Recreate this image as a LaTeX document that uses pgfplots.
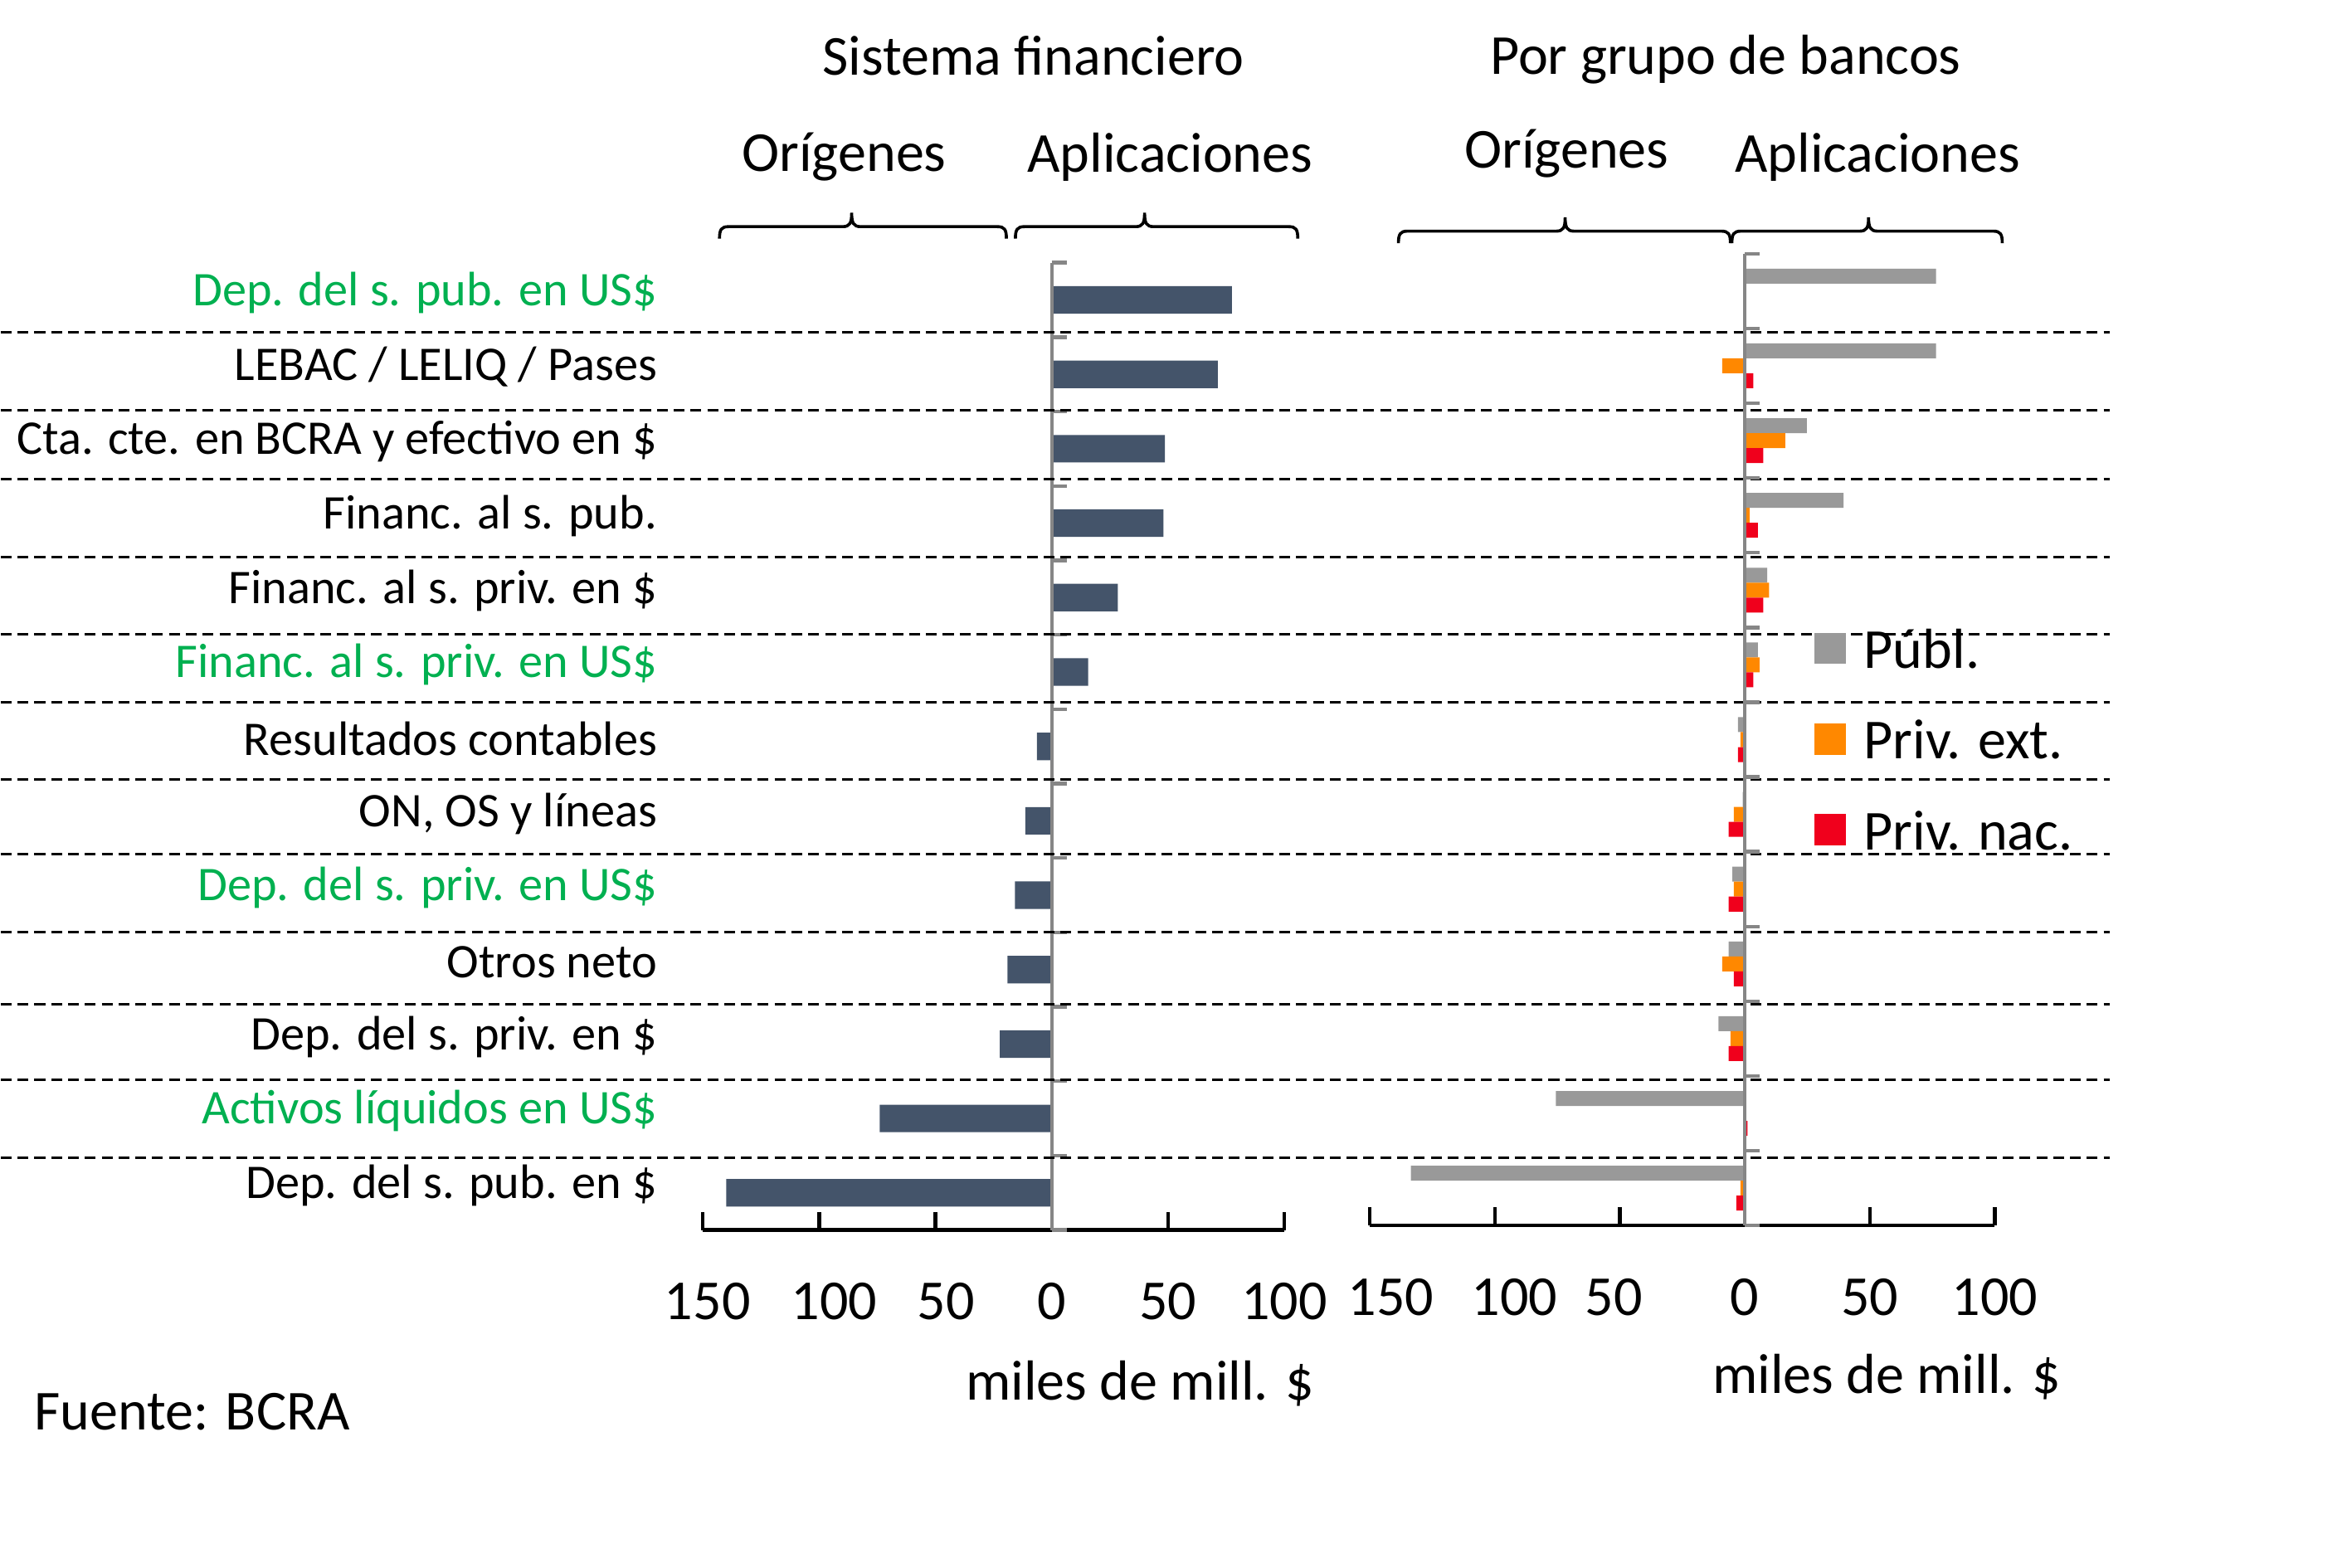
\documentclass[border=0pt]{standalone}
\usepackage{fontspec}
\setmainfont{Carlito}
\usepackage{pgfplots}
\pgfplotsset{compat=1.18}

\definecolor{slate}{HTML}{44546A}
\definecolor{publ}{HTML}{999999}
\definecolor{pext}{HTML}{FF8800}
\definecolor{pnac}{HTML}{F0001C}
\definecolor{usgreen}{HTML}{00B050}
\definecolor{axgray}{HTML}{868686}

\newcommand{\fbig}{\fontsize{9.4}{11}\selectfont}
\newcommand{\fcat}{\fontsize{8.05}{10}\selectfont}

\tikzset{zeroline/.style={axgray,line width=0.6pt}}

% flat brace: left x, tip x, right x, base y
\newcommand{\obrace}[4]{%
  \draw[line width=0.5pt]
    (#1,#4) .. controls (#1,#4+1.5pt) and (#1+0.3pt,#4+2pt) .. (#1+1.5pt,#4+2pt)
    -- (#2-1.5pt,#4+2pt) .. controls (#2-0.3pt,#4+2pt) and (#2,#4+2.6pt) .. (#2,#4+4.3pt)
    .. controls (#2,#4+2.6pt) and (#2+0.3pt,#4+2pt) .. (#2+1.5pt,#4+2pt)
    -- (#3-1.5pt,#4+2pt) .. controls (#3-0.3pt,#4+2pt) and (#3,#4+1.5pt) .. (#3,#4);}

\pgfplotsset{
  panel/.style={
    scale only axis,
    xmin=-150,xmax=100,ymin=0.5,ymax=13.5,
    y dir=reverse,
    axis x line*=bottom,axis y line*=left,
    x axis line style={-,black,line width=0.6pt},
    y axis line style={draw=none},
    xtick={-150,-100,-50,0,50,100},
    tick align=inside,
    major tick length=3pt,
    xtick style={black,line width=0.6pt},
    ytick style={draw=none},
    xticklabel style={font=\fbig,yshift=-5.3pt},
    clip=false,
  },
}

\begin{document}
\begin{tikzpicture}
\useasboundingbox (0,-1.25pt) rectangle (390bp,260bp-1.25pt);

% sistema financiero
\begin{axis}[panel,
  at={(117pt,55pt)},anchor=south west,
  width=96.75pt,height=161pt,
  xticklabels={\kern1.5pt150,\kern5pt100,\kern3.5pt50,0,50,100},
  ytick={1,...,13},
  yticklabels={
    {\textcolor{usgreen}{Dep. del s. pub. en US\$}},
    {LEBAC / LELIQ / Pases},
    {Cta. cte. en BCRA y efectivo en \$},
    {Financ. al s. pub.},
    {Financ. al s. priv. en \$},
    {\textcolor{usgreen}{Financ. al s. priv. en US\$}},
    {Resultados contables},
    {ON, OS y líneas},
    {\textcolor{usgreen}{Dep. del s. priv. en US\$}},
    {Otros neto},
    {Dep. del s. priv. en \$},
    {\textcolor{usgreen}{Activos líquidos en US\$}},
    {Dep. del s. pub. en \$}},
  yticklabel style={font=\fcat,anchor=east,xshift=-4.1pt,yshift=1.2pt},
]
\addplot[xbar,bar width=0.37,fill=slate,draw=none] coordinates {
  (77.5,1) (71.4,2) (48.7,3) (48.0,4) (28.4,5) (15.7,6) (-6.4,7)
  (-11.4,8) (-15.8,9) (-19.0,10) (-22.3,11) (-74.0,12) (-140.0,13)
};
\draw[zeroline] (axis cs:0,0.5) -- (axis cs:0,13.5);
\pgfplotsinvokeforeach{0.5,1.5,...,13.5}{
  \draw[zeroline] (axis cs:0,#1) -- ([xshift=2.5pt]axis cs:0,#1);
}
\pgfplotsinvokeforeach{1.43,2.48,3.41,4.46,5.49,6.41,7.44,8.45,9.50,10.47,11.48,12.53}{
  \draw[black,line width=0.4pt,dash pattern=on 1.8pt off 1pt]
    (axis cs:-452,#1) -- (axis cs:455,#1);
}
\end{axis}

% por grupo de bancos
\begin{axis}[panel,
  at={(228pt,55.75pt)},anchor=south west,
  width=104pt,height=161.75pt,
  xticklabels={\kern7pt150,\kern6.5pt100,50\kern2pt,0,50,100},
  ytick=\empty,
  legend cell align=left,
  legend image code/.code={\fill[#1] (0pt,-2.6pt) rectangle (5.2pt,2.6pt);},
  legend style={at={(0.71,0.628)},anchor=north west,draw=none,fill=none,
    font=\fbig,inner sep=0pt,row sep=4.5pt,
    nodes={text height=6.6pt,text depth=0pt,inner ysep=2pt,inner xsep=3pt}},
]
\addplot[xbar,bar width=0.2,bar shift=-0.2,fill=publ,draw=none] coordinates {
  (76.5,1) (76.5,2) (24.8,3) (39.5,4) (9.0,5) (5.2,6) (-2.7,7)
  (-0.8,8) (-5.0,9) (-6.5,10) (-10.5,11) (-75.6,12) (-133.6,13)
};
\addplot[xbar,bar width=0.2,bar shift=0,fill=pext,draw=none] coordinates {
  (0.4,1) (-9.0,2) (16.2,3) (1.9,4) (9.7,5) (5.9,6) (-1.7,7)
  (-4.4,8) (-4.4,9) (-9.0,10) (-5.7,11) (-0.3,12) (-1.7,13)
};
\addplot[xbar,bar width=0.2,bar shift=0.2,fill=pnac,draw=none] coordinates {
  (0.3,1) (3.4,2) (7.4,3) (5.2,4) (7.4,5) (3.4,6) (-2.7,7)
  (-6.5,8) (-6.5,9) (-4.4,10) (-6.5,11) (1.1,12) (-3.4,13)
};
\legend{Públ.,Priv. ext.,Priv. nac.}
\draw[zeroline] (axis cs:0,0.5) -- (axis cs:0,13.5);
\pgfplotsinvokeforeach{0.5,1.5,...,13.5}{
  \draw[zeroline] (axis cs:0,#1) -- ([xshift=2.5pt]axis cs:0,#1);
}
\end{axis}

% titulos
\node[font=\fbig] at (172pt,250.5pt) {Sistema financiero};
\node[font=\fbig] at (287.2pt,249.8pt) {Por grupo de bancos};
\node[font=\fbig] at (140.5pt,233.6pt) {Orígenes};
\node[font=\fbig] at (194.75pt,233.6pt) {Aplicaciones};
\node[font=\fbig] at (260.75pt,234.1pt) {Orígenes};
\node[font=\fbig] at (312.5pt,233.6pt) {Aplicaciones};

\obrace{119.75pt}{141.75pt}{167.5pt}{220pt}
\obrace{169pt}{190.5pt}{216pt}{220pt}
\obrace{232.75pt}{260.5pt}{288pt}{219.25pt}
\obrace{288.25pt}{311pt}{333.25pt}{219.25pt}

\node[font=\fbig] at (189.75pt,29.5pt) {miles de mill. \$};
\node[font=\fbig] at (314pt,30.5pt) {miles de mill. \$};
\node[font=\fbig,anchor=west,inner sep=0pt] at (5.5pt,24.75pt) {Fuente: BCRA};
\end{tikzpicture}
\end{document}
